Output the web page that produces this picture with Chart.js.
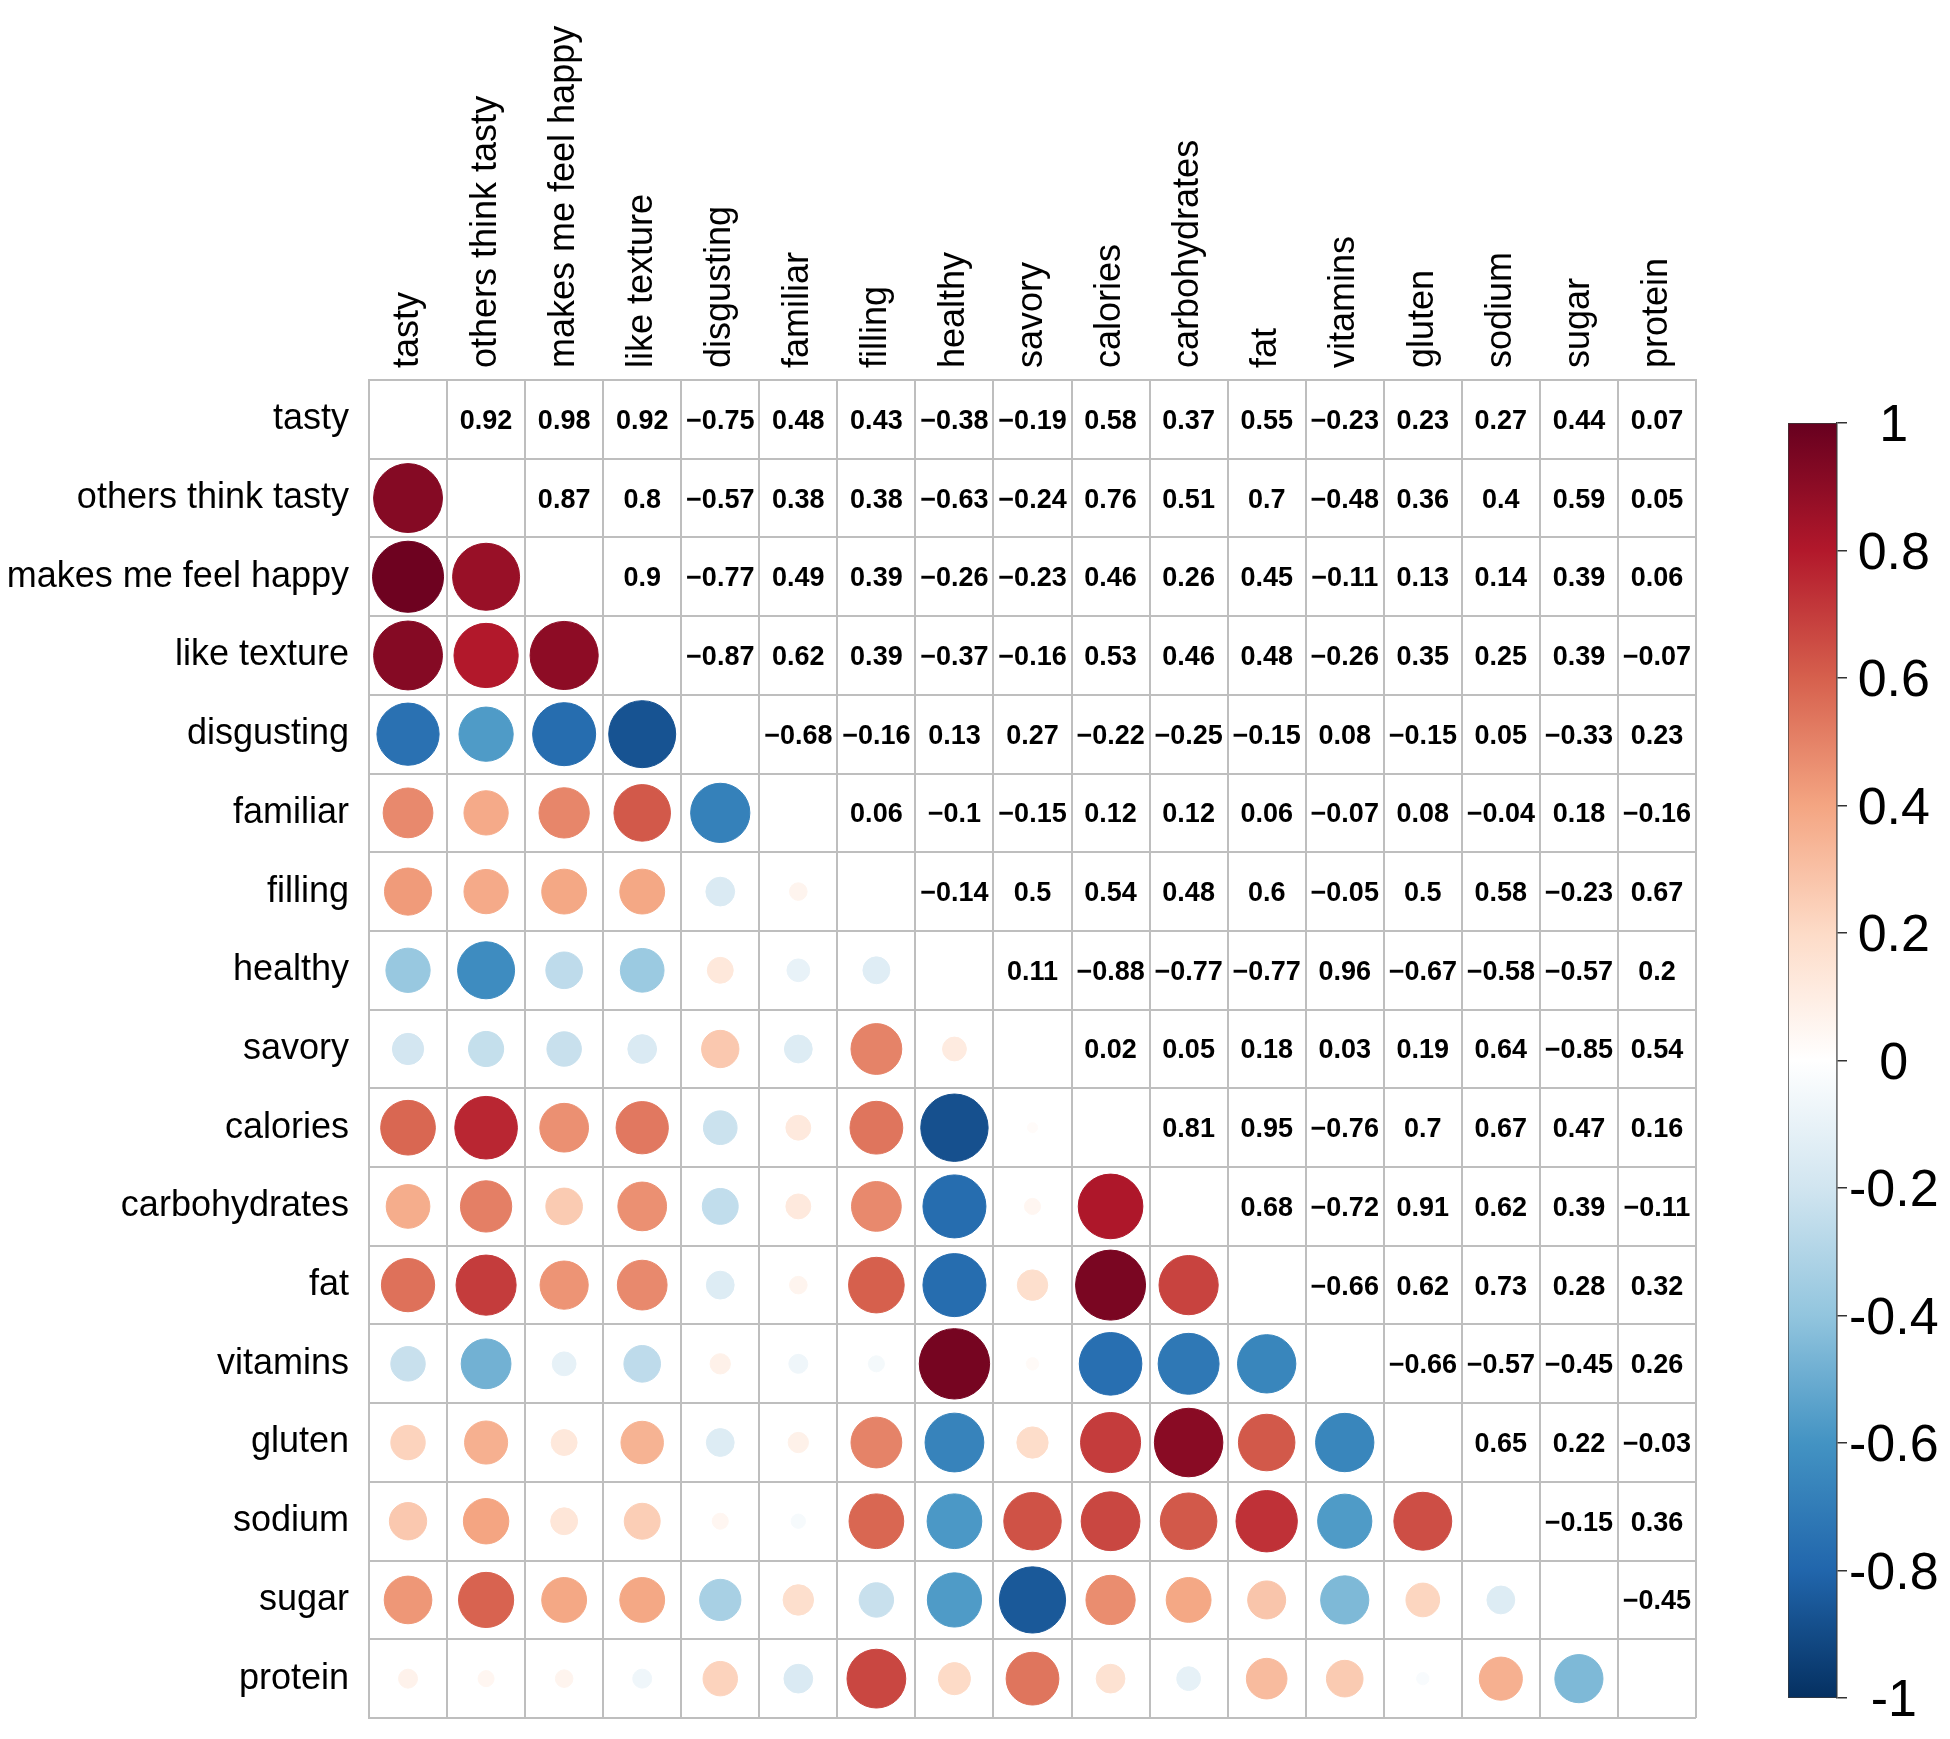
<!DOCTYPE html>
<html>
<head>
<meta charset="utf-8">
<script src="https://cdn.jsdelivr.net/npm/chart.js@4.4.1/dist/chart.umd.min.js"></script>
<style>
  html, body { margin: 0; padding: 0; background: #fff; }
  #page { position: relative; width: 1950px; height: 1739px; }
  .box { position: absolute; top: 0; height: 1739px; }
</style>
</head>
<body>
<div id="page">
  <div class="box" style="left:0;width:1700px"><canvas id="matrix"></canvas></div>
  <div class="box" style="left:1760px;width:190px"><canvas id="legend"></canvas></div>
</div>
<script>
//variables del estudio
const variables = ['tasty', 'others think tasty', 'makes me feel happy', 'like texture', 'disgusting',
  'familiar', 'filling', 'healthy', 'savory', 'calories', 'carbohydrates', 'fat', 'vitamins',
  'gluten', 'sodium', 'sugar', 'protein'];

//triangulo superior: cada fila con las variables que vienen detras
const rTasty    = [0.92, 0.98, 0.92, -0.75, 0.48, 0.43, -0.38, -0.19, 0.58, 0.37, 0.55, -0.23, 0.23, 0.27, 0.44, 0.07];
const rOthers   = [0.87, 0.8, -0.57, 0.38, 0.38, -0.63, -0.24, 0.76, 0.51, 0.7, -0.48, 0.36, 0.4, 0.59, 0.05];
const rHappy    = [0.9, -0.77, 0.49, 0.39, -0.26, -0.23, 0.46, 0.26, 0.45, -0.11, 0.13, 0.14, 0.39, 0.06];
const rTexture  = [-0.87, 0.62, 0.39, -0.37, -0.16, 0.53, 0.46, 0.48, -0.26, 0.35, 0.25, 0.39, -0.07];
const rDisgust  = [-0.68, -0.16, 0.13, 0.27, -0.22, -0.25, -0.15, 0.08, -0.15, 0.05, -0.33, 0.23];
const rFamiliar = [0.06, -0.1, -0.15, 0.12, 0.12, 0.06, -0.07, 0.08, -0.04, 0.18, -0.16];
const rFilling  = [-0.14, 0.5, 0.54, 0.48, 0.6, -0.05, 0.5, 0.58, -0.23, 0.67];
const rHealthy  = [0.11, -0.88, -0.77, -0.77, 0.96, -0.67, -0.58, -0.57, 0.2];
const rSavory   = [0.02, 0.05, 0.18, 0.03, 0.19, 0.64, -0.85, 0.54];
const rCalories = [0.81, 0.95, -0.76, 0.7, 0.67, 0.47, 0.16];
const rCarbs    = [0.68, -0.72, 0.91, 0.62, 0.39, -0.11];
const rFat      = [-0.66, 0.62, 0.73, 0.28, 0.32];
const rVitamins = [-0.66, -0.57, -0.45, 0.26];
const rGluten   = [0.65, 0.22, -0.03];
const rSodium   = [-0.15, 0.36];
const rSugar    = [-0.45];

//etiquetas de la barra de color
const legendTicks = [1, 0.8, 0.6, 0.4, 0.2, 0, -0.2, -0.4, -0.6, -0.8, -1];
//paleta RdBu de -1 a 1
const palette = ['#053061', '#2166AC', '#4393C3', '#92C5DE', '#D1E5F0', '#FFFFFF',
  '#FDDBC7', '#F4A582', '#D6604D', '#B2182B', '#67001F'];

const upperRows = [rTasty, rOthers, rHappy, rTexture, rDisgust, rFamiliar, rFilling, rHealthy,
  rSavory, rCalories, rCarbs, rFat, rVitamins, rGluten, rSodium, rSugar];

const FONT = '"Liberation Sans", Arial, Helvetica, sans-serif';

function corr(i, j) {
  if (i === j) return 1;
  if (i < j) return upperRows[i][j - i - 1];
  return upperRows[j][i - j - 1];
}

function hexToRgb(h) {
  return [parseInt(h.slice(1, 3), 16), parseInt(h.slice(3, 5), 16), parseInt(h.slice(5, 7), 16)];
}

function corrColor(v) {
  const t = (v + 1) / 2 * 10;
  const k = Math.min(9, Math.max(0, Math.floor(t)));
  const f = t - k;
  const a = hexToRgb(palette[k]);
  const b = hexToRgb(palette[k + 1]);
  const c = a.map((x, n) => Math.round(x + (b[n] - x) * f));
  return 'rgb(' + c.join(',') + ')';
}

function fmt(v) {
  return String(v).replace('-', '\u2212');
}

//circulos del triangulo inferior
let bubbles = [];
for (let i = 0; i < variables.length; i++) {
  for (let j = 0; j < i; j++) {
    bubbles.push({ x: variables[j], y: variables[i], v: corr(i, j) });
  }
}

//numeros del triangulo superior
const cellText = {
  id: 'cellText',
  afterDatasetsDraw(chart) {
    const { ctx, scales: { x, y } } = chart;
    ctx.save();
    ctx.font = 'bold 27px ' + FONT;
    ctx.fillStyle = '#000';
    ctx.textAlign = 'center';
    ctx.textBaseline = 'middle';
    for (let i = 0; i < variables.length; i++) {
      for (let j = i + 1; j < variables.length; j++) {
        ctx.fillText(fmt(corr(i, j)), x.getPixelForValue(j), y.getPixelForValue(i) + 2);
      }
    }
    ctx.restore();
  }
};

const gridColor = '#BEBEBE';

new Chart(document.getElementById('matrix'), {
  type: 'scatter',
  data: {
    datasets: [{
      data: bubbles,
      showLine: false,
      pointBackgroundColor: ctx => ctx.raw ? corrColor(ctx.raw.v) : '#fff',
      pointBorderColor: ctx => ctx.raw ? corrColor(ctx.raw.v) : '#fff',
      pointBorderWidth: 1,
      pointRadius: ctx => {
        const area = ctx.chart.chartArea;
        if (!area || !ctx.raw) return 0;
        const cell = area.width / variables.length;
        return Math.sqrt(Math.abs(ctx.raw.v)) * cell * 0.46;
      }
    }]
  },
  options: {
    responsive: true,
    maintainAspectRatio: false,
    animation: false,
    events: [],
    layout: { padding: { left: 0, top: 0, right: 4, bottom: 21 } },
    plugins: { legend: { display: false }, tooltip: { enabled: false } },
    scales: {
      x: {
        type: 'category',
        labels: variables,
        position: 'top',
        offset: true,
        afterFit: s => { s.height = 380; s.paddingLeft = 0; s.paddingRight = 0; },
        grid: { offset: true, color: gridColor, lineWidth: 2, drawTicks: false },
        border: { display: true, color: gridColor, width: 2 },
        ticks: { autoSkip: false, minRotation: 90, maxRotation: 90, padding: 12, labelOffset: 43,
          color: '#000', font: { size: 36, family: FONT } }
      },
      y: {
        type: 'category',
        labels: variables,
        position: 'left',
        offset: true,
        afterFit: s => { s.width = 369; s.paddingTop = 0; s.paddingBottom = 0; },
        grid: { offset: true, color: gridColor, lineWidth: 2, drawTicks: false },
        border: { display: true, color: gridColor, width: 2 },
        ticks: { autoSkip: false, padding: 20, color: '#000', font: { size: 36, family: FONT } }
      }
    }
  },
  plugins: [cellText]
});

//barra de color
new Chart(document.getElementById('legend'), {
  type: 'bar',
  data: {
    labels: [''],
    datasets: [{
      data: [[-1, 1]],
      backgroundColor: ctx => {
        const area = ctx.chart.chartArea;
        if (!area) return '#fff';
        const g = ctx.chart.ctx.createLinearGradient(0, area.bottom, 0, area.top);
        palette.forEach((c, k) => g.addColorStop(k / (palette.length - 1), c));
        return g;
      },
      borderColor: '#3a3a3a',
      borderWidth: 1,
      borderSkipped: false,
      barPercentage: 1,
      categoryPercentage: 1
    }]
  },
  options: {
    responsive: true,
    maintainAspectRatio: false,
    animation: false,
    events: [],
    layout: { padding: { left: 28, top: 423, bottom: 41, right: 0 } },
    plugins: { legend: { display: false }, tooltip: { enabled: false } },
    scales: {
      x: { display: false },
      y: {
        position: 'right',
        min: -1,
        max: 1,
        afterBuildTicks: s => { s.ticks = legendTicks.map(v => ({ value: v })); },
        afterFit: s => { s.width = 113; },
        grid: { drawOnChartArea: false, drawTicks: true, tickLength: 10, color: '#333', lineWidth: 1.5 },
        border: { display: true, color: '#333', width: 1.5 },
        ticks: {
          crossAlign: 'center',
          padding: 2,
          labelOffset: 4,
          color: '#000',
          font: { size: 52, family: FONT },
          callback: v => String(Math.round(v * 10) / 10)
        }
      }
    }
  }
});
</script>
</body>
</html>
